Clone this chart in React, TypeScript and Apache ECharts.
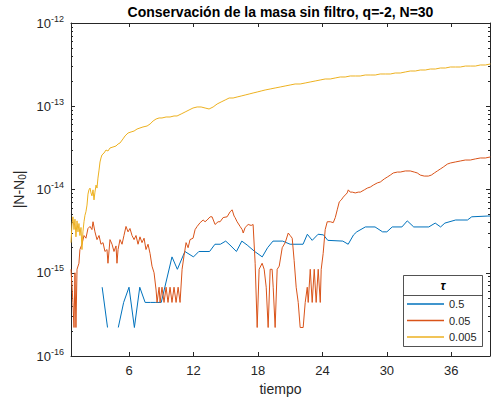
import React, { useEffect, useRef } from "react";
import * as echarts from "echarts";

// ---- data: |N - N0| versus tiempo for three time steps ----
const tiempoA: number[] = [3.5, 4.0, 4.5, 5.0, 5.5, 6.0, 6.5, 7.0, 7.5, 8.0, 8.5, 9.0, 10.0, 10.5, 11.2, 12.0, 12.5, 13.5, 14.0, 14.5, 15.0, 15.4, 16.0, 16.5, 17.0, 17.7, 18.4, 18.9, 19.4, 20.3, 21.0, 22.2, 22.6, 23.05, 23.6, 24.1, 24.5, 25.9, 26.4, 26.9, 27.2, 28.0, 28.9, 29.6, 30.0, 30.5, 31.4, 31.9, 32.5, 33.9, 34.5, 35.0, 35.4, 36.4, 37.5, 37.9, 39.4, 39.6];
const errorA: (number | null)[] = [6.7e-16, 2.2e-16, null, 2.2e-16, 4.4e-16, 6.7e-16, 2.2e-16, 6.7e-16, 4.4e-16, 4.4e-16, 4.4e-16, 4.4e-16, 1.55e-15, 1.1e-15, 1.8e-15, 1.55e-15, 1.8e-15, 1.8e-15, 2.2e-15, 2.2e-15, 2.4e-15, 2.15e-15, 1.8e-15, 2.4e-15, 2.15e-15, 1.8e-15, 1.55e-15, 2.0e-15, 2.4e-15, 2.4e-15, 2.2e-15, 2.2e-15, 2.9e-15, 2.45e-15, 2.9e-15, 2.85e-15, 2.45e-15, 2.4e-15, 2.2e-15, 2.85e-15, 3.1e-15, 3.55e-15, 3.55e-15, 3.1e-15, 3.1e-15, 3.55e-15, 3.55e-15, 4.2e-15, 3.55e-15, 3.55e-15, 3.95e-15, 3.55e-15, 3.95e-15, 4.3e-15, 4.3e-15, 4.7e-15, 4.8e-15, 4.8e-15];

const tiempoB: number[] = [0.6, 0.78, 0.88, 0.97, 1.06, 1.16, 1.34, 1.43, 1.62, 1.81, 1.99, 2.18, 2.37, 2.55, 2.65, 2.83, 3.02, 3.21, 3.39, 3.58, 3.76, 3.95, 4.04, 4.23, 4.42, 4.6, 4.79, 4.88, 4.98, 5.16, 5.35, 5.53, 5.72, 5.91, 6.09, 6.28, 6.47, 6.65, 6.84, 7.02, 7.21, 7.4, 7.58, 7.77, 7.96, 8.14, 8.33, 8.52, 8.61, 8.8, 8.89, 9.07, 9.26, 9.45, 9.63, 9.82, 10.0, 10.19, 10.38, 10.57, 10.75, 10.94, 11.12, 11.31, 11.5, 11.68, 11.96, 12.15, 12.34, 12.62, 12.9, 13.08, 13.27, 13.55, 13.73, 14.01, 14.29, 14.48, 14.76, 15.13, 15.41, 15.6, 15.78, 15.87, 16.06, 16.34, 16.53, 16.63, 16.81, 17.09, 17.37, 17.55, 17.74, 17.93, 18.11, 18.39, 18.58, 18.77, 18.95, 19.14, 19.32, 19.42, 19.6, 19.79, 19.98, 20.26, 20.54, 20.82, 21.0, 21.19, 21.37, 21.56, 21.75, 21.93, 22.21, 22.4, 22.59, 22.68, 22.87, 23.05, 23.24, 23.42, 23.61, 23.8, 23.89, 24.07, 24.26, 24.45, 24.73, 25.01, 25.2, 25.38, 25.57, 25.76, 25.94, 26.13, 26.31, 26.41, 26.59, 26.78, 27.06, 27.34, 27.53, 27.9, 28.18, 28.46, 28.74, 29.11, 29.39, 29.76, 30.04, 30.32, 30.6, 30.98, 31.25, 31.72, 32.18, 32.55, 32.83, 33.11, 33.48, 33.86, 34.14, 34.42, 34.7, 34.97, 35.25, 35.63, 35.91, 36.37, 36.84, 37.3, 37.77, 38.24, 38.7, 39.17, 39.63];
const errorB: number[] = [1.1e-15, 4.4e-16, 2.2e-16, 1.0e-15, 2.2e-16, 1.1e-15, 1.3e-15, 1.9e-15, 2.2e-15, 2.8e-15, 2.6e-15, 3.4e-15, 3.6e-15, 3.3e-15, 4.1e-15, 3.1e-15, 2.5e-15, 2.8e-15, 2.2e-15, 2.3e-15, 1.8e-15, 1.9e-15, 1.3e-15, 2.5e-15, 2.2e-15, 1.8e-15, 2.1e-15, 1.3e-15, 1.9e-15, 2.5e-15, 2.2e-15, 2.8e-15, 3.6e-15, 3.1e-15, 3.4e-15, 2.8e-15, 2.5e-15, 2.8e-15, 2.2e-15, 2.7e-15, 2.3e-15, 2.6e-15, 1.9e-15, 2.2e-15, 1.7e-15, 1.2e-15, 1.0e-15, 6.2e-16, 4.4e-16, 6.7e-16, 4.4e-16, 6.7e-16, 4.4e-16, 6.7e-16, 4.4e-16, 6.7e-16, 4.4e-16, 6.7e-16, 4.4e-16, 6.7e-16, 4.4e-16, 1.1e-15, 1.6e-15, 2.3e-15, 2.0e-15, 2.5e-15, 2.6e-15, 3.3e-15, 3.6e-15, 4.0e-15, 4.3e-15, 4.1e-15, 4.3e-15, 4.7e-15, 4.7e-15, 3.8e-15, 4.1e-15, 4.1e-15, 4.6e-15, 4.7e-15, 5.4e-15, 5.7e-15, 4.8e-15, 4.6e-15, 4.1e-15, 3.6e-15, 3.3e-15, 3.0e-15, 3.5e-15, 3.8e-15, 3.7e-15, 3.8e-15, 1.3e-15, 2.2e-16, 1.1e-15, 1.3e-15, 1.1e-15, 6.7e-16, 2.2e-16, 1.1e-15, 1.1e-15, 6.7e-16, 2.2e-16, 1.1e-15, 1.2e-15, 2.0e-15, 2.3e-15, 3.0e-15, 2.8e-15, 2.6e-15, 1.4e-15, 6.7e-16, 4.4e-16, 2.2e-16, 2.2e-16, 4.4e-16, 6.7e-16, 4.4e-16, 1.1e-15, 4.4e-16, 1.1e-15, 4.4e-16, 1.1e-15, 4.4e-16, 1.1e-15, 1.7e-15, 3.3e-15, 4.1e-15, 4.1e-15, 4.0e-15, 4.6e-15, 5.7e-15, 7.1e-15, 7.5e-15, 8.1e-15, 8.6e-15, 9.1e-15, 9.9e-15, 9.3e-15, 9.3e-15, 9.1e-15, 9.3e-15, 9.3e-15, 9.9e-15, 1.04e-14, 1.07e-14, 1.13e-14, 1.2e-14, 1.23e-14, 1.34e-14, 1.41e-14, 1.49e-14, 1.58e-14, 1.62e-14, 1.62e-14, 1.67e-14, 1.67e-14, 1.62e-14, 1.58e-14, 1.49e-14, 1.45e-14, 1.45e-14, 1.49e-14, 1.58e-14, 1.67e-14, 1.76e-14, 1.86e-14, 2.02e-14, 2.08e-14, 2.14e-14, 2.2e-14, 2.26e-14, 2.26e-14, 2.33e-14, 2.39e-14, 2.39e-14, 2.46e-14];

const tiempoC: number[] = [0.6, 0.69, 0.78, 0.88, 0.97, 1.06, 1.16, 1.25, 1.34, 1.43, 1.53, 1.62, 1.71, 1.81, 1.9, 1.99, 2.09, 2.18, 2.27, 2.37, 2.46, 2.55, 2.65, 2.74, 2.83, 2.93, 3.02, 3.11, 3.21, 3.3, 3.39, 3.48, 3.67, 3.86, 4.04, 4.23, 4.51, 4.79, 4.98, 5.16, 5.44, 5.63, 5.91, 6.19, 6.47, 6.75, 7.02, 7.3, 7.68, 7.96, 8.24, 8.52, 8.8, 9.07, 9.45, 9.82, 10.19, 10.47, 10.85, 11.22, 11.59, 11.96, 12.34, 12.71, 13.08, 13.45, 13.83, 14.2, 14.57, 14.95, 15.32, 15.69, 16.06, 16.44, 16.81, 17.18, 17.55, 17.93, 18.3, 18.67, 19.14, 19.6, 20.07, 20.53, 21.0, 21.46, 21.93, 22.4, 22.86, 23.33, 23.79, 24.26, 24.73, 25.19, 25.66, 26.12, 26.59, 27.06, 27.52, 27.99, 28.45, 28.92, 29.38, 29.85, 30.32, 30.78, 31.25, 31.72, 32.18, 32.65, 33.11, 33.58, 34.05, 34.51, 34.98, 35.45, 35.91, 36.38, 36.84, 37.31, 37.77, 38.24, 38.7, 39.17, 39.64];
const errorC: number[] = [2.3e-15, 3.75e-15, 4.7e-15, 3.3e-15, 4.4e-15, 2.7e-15, 4.2e-15, 3.1e-15, 3.9e-15, 2.8e-15, 3.5e-15, 1.9e-15, 3.1e-15, 4.1e-15, 4.9e-15, 5.4e-15, 6.5e-15, 8.8e-15, 9.9e-15, 1.04e-14, 9.1e-15, 8.4e-15, 9.9e-15, 7.5e-15, 9.3e-15, 1.13e-14, 1.04e-14, 1.37e-14, 1.71e-14, 2.14e-14, 2.39e-14, 2.6e-14, 2.74e-14, 2.98e-14, 2.9e-14, 3.15e-14, 3.24e-14, 3.33e-14, 3.52e-14, 3.62e-14, 4.05e-14, 4.4e-14, 4.77e-14, 4.91e-14, 5.04e-14, 5.33e-14, 5.48e-14, 5.64e-14, 5.79e-14, 6.12e-14, 6.65e-14, 7.03e-14, 7.23e-14, 7.23e-14, 7.43e-14, 7.43e-14, 7.64e-14, 7.64e-14, 8.07e-14, 8.53e-14, 9.02e-14, 9.53e-14, 9.8e-14, 9.8e-14, 9.53e-14, 9.27e-14, 9.8e-14, 1.064e-13, 1.125e-13, 1.189e-13, 1.256e-13, 1.256e-13, 1.292e-13, 1.328e-13, 1.365e-13, 1.403e-13, 1.443e-13, 1.483e-13, 1.525e-13, 1.568e-13, 1.612e-13, 1.657e-13, 1.703e-13, 1.751e-13, 1.8e-13, 1.851e-13, 1.851e-13, 1.903e-13, 1.956e-13, 2.011e-13, 2.067e-13, 2.125e-13, 2.125e-13, 2.185e-13, 2.246e-13, 2.246e-13, 2.309e-13, 2.309e-13, 2.309e-13, 2.373e-13, 2.373e-13, 2.373e-13, 2.44e-13, 2.44e-13, 2.44e-13, 2.508e-13, 2.508e-13, 2.58e-13, 2.65e-13, 2.65e-13, 2.725e-13, 2.725e-13, 2.8e-13, 2.8e-13, 2.88e-13, 2.88e-13, 2.96e-13, 2.96e-13, 2.96e-13, 3.04e-13, 3.04e-13, 3.04e-13, 3.13e-13, 3.13e-13, 3.22e-13];

const tauLabels: string[] = ["0.5", "0.05", "0.005"];
const xTicks: number[] = [6, 12, 18, 24, 30, 36];
const decades: number[] = [-16, -15, -14, -13, -12];
const minorFactors: number[] = [2, 3, 4, 5, 6, 7, 8, 9];

const T_MIN = 0.6;
const T_MAX = 39.6;

const FONT = "'Liberation Sans', Arial, Helvetica, sans-serif";
const INK = "#262626";
const COLORS = ["#0072BD", "#D95319", "#EDB120"];

const pairs = (t: number[], v: (number | null)[]) =>
  t.map((x, i) => [x, v[i] === null ? "-" : v[i]]);

// minor tick positions of the log axis, expressed as exponents
const minorExps: number[] = [];
decades.slice(0, -1).forEach((d) =>
  minorFactors.forEach((k) => minorExps.push(d + Math.log10(k)))
);

export default function App() {
  const ref = useRef<HTMLDivElement>(null);

  useEffect(() => {
    if (!ref.current) return;
    const chart = echarts.init(ref.current, undefined, { renderer: "svg" });

    const axisLine = { show: true, onZero: false, lineStyle: { color: INK, width: 1 } };
    const expAxisBase = {
      type: "value",
      min: decades[0],
      max: decades[decades.length - 1],
      splitLine: { show: false },
      axisLine: { show: false },
    };

    const option: any = {
      animation: false,
      grid: { left: 71, top: 23, right: 2, bottom: 49 },
      xAxis: [
        {
          type: "value",
          min: T_MIN,
          max: T_MAX,
          position: "bottom",
          axisLine,
          splitLine: { show: false },
          axisTick: { show: true, inside: true, length: 4, customValues: xTicks, lineStyle: { color: INK } },
          axisLabel: { customValues: xTicks, margin: 8, fontSize: 13, color: INK, fontFamily: FONT },
          name: "tiempo",
          nameLocation: "middle",
          nameGap: 25,
          nameTextStyle: { fontSize: 14, color: INK, fontFamily: FONT },
        },
        {
          type: "value",
          min: T_MIN,
          max: T_MAX,
          position: "top",
          axisLine,
          splitLine: { show: false },
          axisTick: { show: true, inside: true, length: 4, customValues: xTicks, lineStyle: { color: INK } },
          axisLabel: { show: false },
        },
      ],
      yAxis: [
        {
          type: "log",
          logBase: 10,
          min: 1e-16,
          max: 1e-12,
          position: "left",
          axisLine,
          axisTick: { show: false },
          axisLabel: { show: false },
          splitLine: { show: false },
          name: "{t||N-N}{s|0}{t||}",
          nameLocation: "middle",
          nameGap: 44,
          nameTextStyle: {
            color: INK,
            rich: {
              t: { fontSize: 14, color: INK, fontFamily: FONT },
              s: { fontSize: 10, color: INK, fontFamily: FONT, padding: [7, 0, 0, 0] },
            },
          },
        },
        {
          ...expAxisBase,
          position: "left",
          interval: 1,
          axisTick: { show: true, inside: true, length: 4, lineStyle: { color: INK } },
          axisLabel: {
            margin: 7,
            formatter: (v: number) => `{b|10}{s|${v}}`,
            rich: {
              b: { fontSize: 13, color: INK, fontFamily: FONT },
              s: { fontSize: 9, color: INK, fontFamily: FONT, padding: [0, 0, 9, 0] },
            },
          },
        },
        {
          ...expAxisBase,
          position: "left",
          axisTick: { show: true, inside: true, length: 2, customValues: minorExps, lineStyle: { color: INK } },
          axisLabel: { show: false },
        },
        {
          ...expAxisBase,
          position: "right",
          interval: 1,
          axisLine,
          axisTick: { show: true, inside: true, length: 4, lineStyle: { color: INK } },
          axisLabel: { show: false },
        },
        {
          ...expAxisBase,
          position: "right",
          axisTick: { show: true, inside: true, length: 2, customValues: minorExps, lineStyle: { color: INK } },
          axisLabel: { show: false },
        },
      ],
      legend: {
        orient: "vertical",
        left: 407,
        top: 297,
        padding: 0,
        itemGap: 2.5,
        itemWidth: 37,
        itemHeight: 1.5,
        icon: "rect",
        z: 6,
        textStyle: { fontSize: 11, lineHeight: 14, color: INK, fontFamily: FONT },
        data: tauLabels,
      },
      graphic: [
        {
          type: "text",
          x: 280.5,
          y: 5,
          style: {
            text: "Conservación de la masa sin filtro, q=-2, N=30",
            fill: "#000",
            font: `bold 14px ${FONT}`,
            textAlign: "center",
            textVerticalAlign: "top",
          },
        },
        {
          type: "rect",
          z: 5,
          shape: { x: 403.5, y: 275.5, width: 79, height: 71 },
          style: { fill: "#fff", stroke: INK, lineWidth: 0.8 },
        },
        {
          type: "line",
          z: 5,
          shape: { x1: 403.5, y1: 295.5, x2: 482.5, y2: 295.5 },
          style: { stroke: INK, lineWidth: 0.8 },
        },
        {
          type: "text",
          z: 6,
          x: 443,
          y: 285.5,
          style: {
            text: "τ",
            fill: "#000",
            font: `italic bold 12px ${FONT}`,
            textAlign: "center",
            textVerticalAlign: "middle",
          },
        },
      ],
      series: [
        { name: tauLabels[0], data: pairs(tiempoA, errorA) },
        { name: tauLabels[1], data: pairs(tiempoB, errorB) },
        { name: tauLabels[2], data: pairs(tiempoC, errorC) },
      ].map((s, i) => ({
        ...s,
        type: "line",
        xAxisIndex: 0,
        yAxisIndex: 0,
        showSymbol: false,
        symbol: "none",
        connectNulls: false,
        color: COLORS[i],
        lineStyle: { color: COLORS[i], width: 1 },
      })),
    };

    chart.setOption(option);
    return () => chart.dispose();
  }, []);

  return (
    <div
      ref={ref}
      style={{ position: "fixed", left: 0, top: 0, width: 492, height: 405, background: "#fff" }}
    />
  );
}
